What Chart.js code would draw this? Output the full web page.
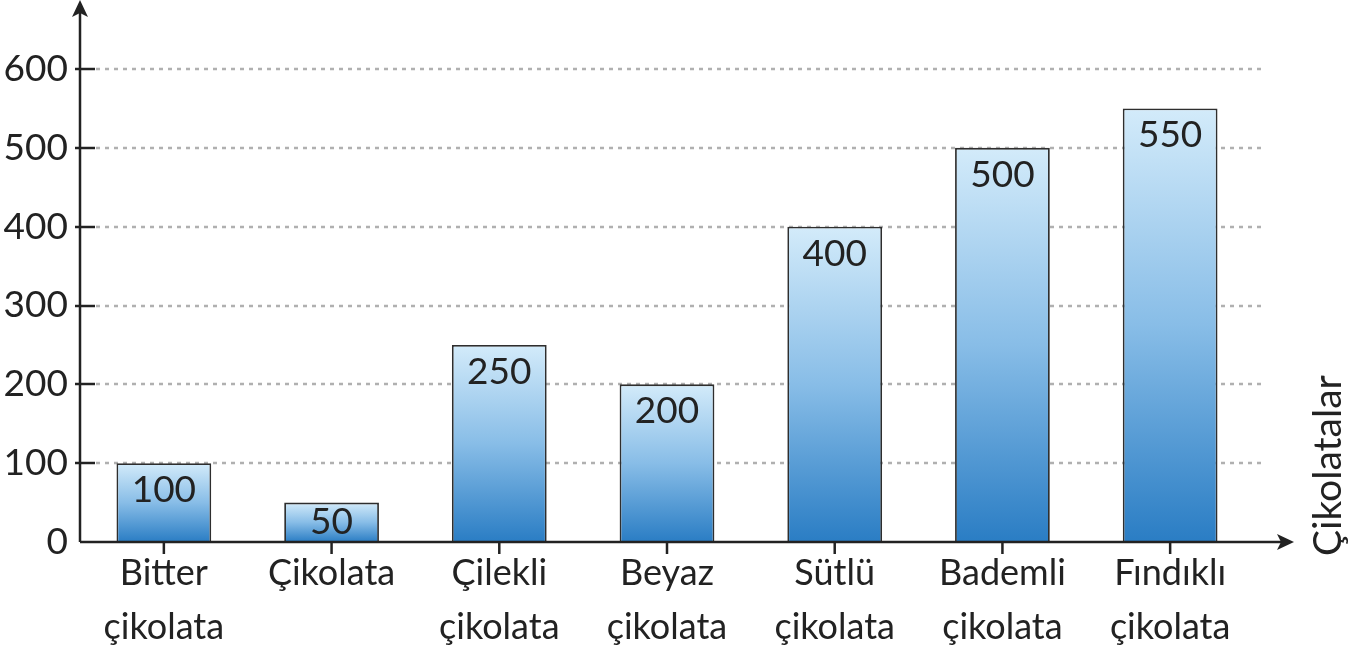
<!DOCTYPE html>
<html>
<head>
<meta charset="utf-8">
<script src="https://cdn.jsdelivr.net/npm/chart.js@4"></script>
<style>
  body { margin: 0; background: #fff; }
  .wrap { width: 1360px; height: 655px; }
</style>
</head>
<body>
<div class="wrap"><canvas id="chart"></canvas></div>
<script>
const categories = [
  ["Bitter", "çikolata"],
  "Çikolata",
  ["Çilekli", "çikolata"],
  ["Beyaz", "çikolata"],
  ["Sütlü", "çikolata"],
  ["Bademli", "çikolata"],
  ["Fındıklı", "çikolata"]
];
const values = [100, 50, 250, 200, 400, 500, 550];
const xTitle = "Çikolatalar";
const yMin = 0, yMax = 600, yStep = 100;

const FONT = "Lato";
const INK = "#222";

// each bar gets its own light-to-dark gradient
function barGradient(ctx) {
  const chart = ctx.chart;
  if (!chart.chartArea) return "#6aa8dc";
  const y = chart.scales.y;
  const top = y.getPixelForValue(ctx.raw);
  const bottom = y.getPixelForValue(0);
  const g = chart.ctx.createLinearGradient(0, top, 0, bottom);
  g.addColorStop(0, "#d3ebfa");
  g.addColorStop(0.5, "#88bde7");
  g.addColorStop(1, "#2a7dc4");
  return g;
}

const axesPlugin = {
  id: "axesPlugin",
  beforeDatasetsDraw(chart) {
    const { ctx, chartArea: a, scales: { y } } = chart;
    ctx.save();
    ctx.strokeStyle = "#b0b0b0";
    ctx.lineWidth = 2.5;
    ctx.setLineDash([4, 5]);
    for (let v = yMin + yStep; v <= yMax; v += yStep) {
      const py = Math.round(y.getPixelForValue(v));
      ctx.beginPath();
      ctx.moveTo(a.left + 16, py);
      ctx.lineTo(a.right + 12, py);
      ctx.stroke();
    }
    ctx.restore();
  },
  afterDatasetsDraw(chart) {
    const { ctx, chartArea: a, scales: { y } } = chart;
    const meta = chart.getDatasetMeta(0);
    ctx.save();

    // value labels inside bars
    ctx.fillStyle = INK;
    ctx.font = "37px " + FONT;
    ctx.textAlign = "center";
    ctx.textBaseline = "middle";
    meta.data.forEach((bar, i) => {
      const ty = Math.min(bar.y + 27, a.bottom - 20);
      ctx.fillText(String(values[i]), bar.x, ty);
    });

    ctx.strokeStyle = INK;
    ctx.fillStyle = INK;
    ctx.lineWidth = 2.5;

    // y axis + arrow
    ctx.beginPath();
    ctx.moveTo(a.left, a.bottom);
    ctx.lineTo(a.left, 12);
    ctx.stroke();
    ctx.beginPath();
    ctx.moveTo(a.left, 0);
    ctx.lineTo(a.left - 8, 17);
    ctx.lineTo(a.left, 13);
    ctx.lineTo(a.left + 8, 17);
    ctx.closePath();
    ctx.fill();

    // x axis + arrow
    const xEnd = a.right + 40;
    ctx.beginPath();
    ctx.moveTo(a.left, a.bottom);
    ctx.lineTo(xEnd - 10, a.bottom);
    ctx.stroke();
    ctx.beginPath();
    ctx.moveTo(xEnd, a.bottom);
    ctx.lineTo(xEnd - 17, a.bottom - 8);
    ctx.lineTo(xEnd - 13, a.bottom);
    ctx.lineTo(xEnd - 17, a.bottom + 8);
    ctx.closePath();
    ctx.fill();

    // y tick marks across the axis
    for (let v = yMin + yStep; v <= yMax; v += yStep) {
      const py = Math.round(y.getPixelForValue(v));
      ctx.beginPath();
      ctx.moveTo(a.left - 5, py);
      ctx.lineTo(a.left + 15, py);
      ctx.stroke();
    }

    // x tick marks under the axis
    meta.data.forEach((bar) => {
      ctx.beginPath();
      ctx.moveTo(bar.x, a.bottom);
      ctx.lineTo(bar.x, a.bottom + 12);
      ctx.stroke();
    });

    // axis title, rotated
    ctx.font = "39px " + FONT;
    ctx.textAlign = "left";
    ctx.textBaseline = "alphabetic";
    ctx.translate(1341, 556);
    ctx.rotate(-Math.PI / 2);
    ctx.fillText(xTitle, 0, 0);
    ctx.restore();
  }
};

new Chart(document.getElementById("chart"), {
  type: "bar",
  data: {
    labels: categories,
    datasets: [{
      data: values,
      backgroundColor: barGradient,
      borderColor: "#2e2e2e",
      borderWidth: 1.8,
      barPercentage: 0.565,
      categoryPercentage: 1
    }]
  },
  options: {
    responsive: true,
    maintainAspectRatio: false,
    animation: false,
    layout: { padding: { top: 69, right: 106, left: 0, bottom: 0 } },
    plugins: {
      legend: { display: false },
      tooltip: { enabled: false }
    },
    scales: {
      x: {
        grid: { display: false, drawTicks: false },
        border: { display: false },
        ticks: {
          color: INK,
          font: { family: FONT, size: 36, lineHeight: 1.5 },
          padding: 4,
          maxRotation: 0,
          autoSkip: false
        },
        afterFit(scale) { scale.height = 113; }
      },
      y: {
        min: yMin,
        max: yMax,
        grid: { display: false, drawTicks: false },
        border: { display: false },
        ticks: {
          stepSize: yStep,
          color: INK,
          font: { family: FONT, size: 37 },
          padding: 12
        },
        afterFit(scale) { scale.width = 80; }
      }
    }
  },
  plugins: [axesPlugin]
});
</script>
</body>
</html>
